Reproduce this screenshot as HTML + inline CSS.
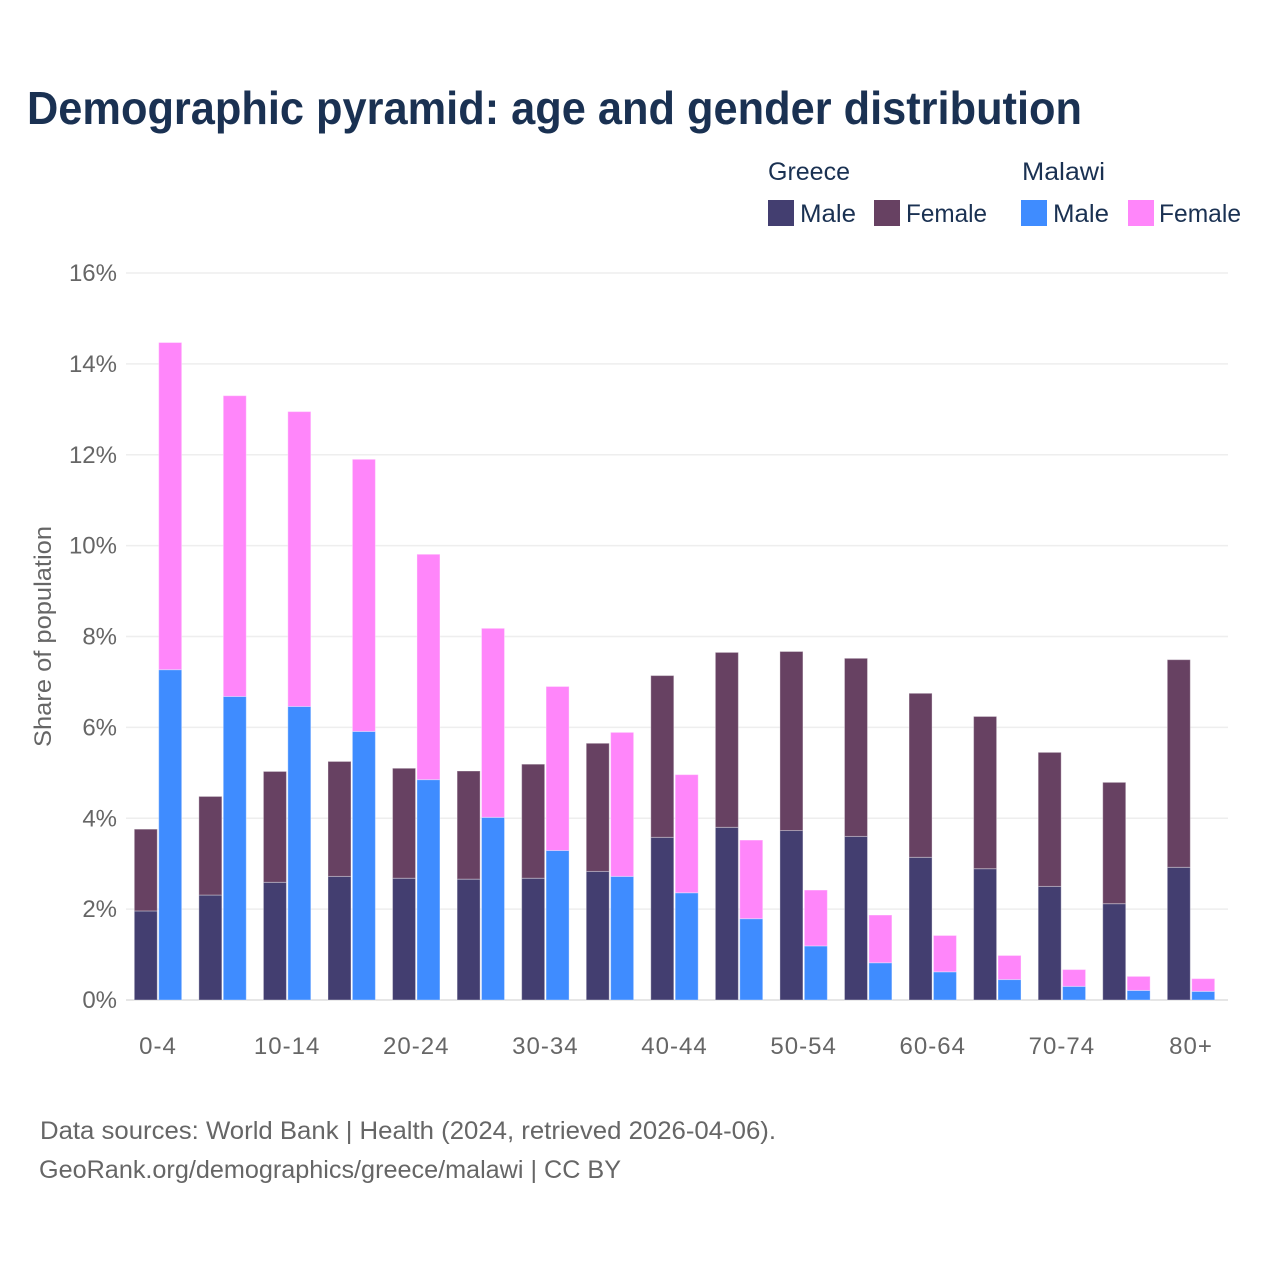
<!DOCTYPE html>
<html lang="en">
<head>
<meta charset="utf-8">
<title>Demographic pyramid</title>
<style>
html,body{margin:0;padding:0;background:#fff;width:1280px;height:1280px;overflow:hidden}
svg{display:block}
text{font-family:"Liberation Sans",sans-serif}
.tick{font-size:24px;fill:#666}
.leg{font-size:25px;fill:#1a3152}
.foot{font-size:25px;fill:#666}
</style>
</head>
<body>
<svg id="chart" width="1280" height="1280" viewBox="0 0 1280 1280" xmlns="http://www.w3.org/2000/svg">
<rect width="1280" height="1280" fill="#fff"/>
<text x="27" y="124" font-size="46" font-weight="700" fill="#1a3152" textLength="1055" lengthAdjust="spacingAndGlyphs">Demographic pyramid: age and gender distribution</text>

<g>
<text class="leg" x="768" y="180" textLength="82" lengthAdjust="spacingAndGlyphs">Greece</text>
<text class="leg" x="1022" y="180" textLength="83" lengthAdjust="spacingAndGlyphs">Malawi</text>
<rect x="768" y="200" width="26" height="26" fill="#433e70"/>
<text class="leg" x="800" y="222" textLength="56" lengthAdjust="spacingAndGlyphs">Male</text>
<rect x="874" y="200" width="26" height="26" fill="#674162"/>
<text class="leg" x="906" y="222" textLength="81" lengthAdjust="spacingAndGlyphs">Female</text>
<rect x="1021" y="200" width="26" height="26" fill="#3f8cff"/>
<text class="leg" x="1053" y="222" textLength="56" lengthAdjust="spacingAndGlyphs">Male</text>
<rect x="1128" y="200" width="26" height="26" fill="#ff86fa"/>
<text class="leg" x="1159" y="222" textLength="82" lengthAdjust="spacingAndGlyphs">Female</text>
</g>

<g id="grid"></g>
<g id="bars"></g>
<g id="yticks"></g>
<g id="xticks"></g>

<text class="tick" transform="translate(51 747) rotate(-90)" x="0" y="0" textLength="221" lengthAdjust="spacingAndGlyphs">Share of population</text>

<text class="foot" x="40" y="1139" textLength="736" lengthAdjust="spacingAndGlyphs">Data sources: World Bank | Health (2024, retrieved 2026-04-06).</text>
<text class="foot" x="39" y="1178" textLength="582" lengthAdjust="spacingAndGlyphs">GeoRank.org/demographics/greece/malawi | CC BY</text>
</svg>

<script>
const categories = ['0-4','5-9','10-14','15-19','20-24','25-29','30-34','35-39','40-44','45-49','50-54','55-59','60-64','65-69','70-74','75-79','80+'];
const greeceMale = [1.96,2.31,2.59,2.72,2.68,2.66,2.68,2.83,3.58,3.80,3.73,3.60,3.14,2.89,2.50,2.12,2.92];
const greeceFemale = [1.80,2.17,2.44,2.53,2.42,2.38,2.51,2.82,3.56,3.85,3.94,3.92,3.61,3.35,2.95,2.67,4.57];
const malawiMale = [7.27,6.68,6.46,5.91,4.85,4.02,3.29,2.72,2.36,1.79,1.19,0.82,0.62,0.45,0.30,0.21,0.19];
const malawiFemale = [7.20,6.62,6.49,5.99,4.96,4.16,3.61,3.17,2.60,1.73,1.23,1.05,0.80,0.53,0.37,0.31,0.28];
const yTickValues = [0,2,4,6,8,10,12,14,16];
const yTickLabels = ['0%','2%','4%','6%','8%','10%','12%','14%','16%'];
const xTickLabels = ['0-4','','10-14','','20-24','','30-34','','40-44','','50-54','','60-64','','70-74','','80+'];

const NS = 'http://www.w3.org/2000/svg';
const plotLeft = 126, plotRight = 1228, plotBottom = 1000, plotTop = 273, yMax = 16;
const firstCenter = 158, lastCenter = 1191;
const barWidth = 23, barOffset = 12.2;

function yScale(v) { return plotBottom - (v / yMax) * (plotBottom - plotTop); }
function xScale(i) { return firstCenter + i * (lastCenter - firstCenter) / (categories.length - 1); }

const gridG = document.getElementById('grid');
const barsG = document.getElementById('bars');
const yG = document.getElementById('yticks');
const xG = document.getElementById('xticks');

yTickValues.forEach(function (v, i) {
  const line = document.createElementNS(NS, 'line');
  
  
  line.setAttribute('x1', plotLeft);
  line.setAttribute('x2', plotRight);
  line.setAttribute('y1', yScale(v));
  line.setAttribute('y2', yScale(v));
  line.setAttribute('stroke', v === 0 ? '#e6e6e6' : '#eeeeee');
  line.setAttribute('stroke-width', v === 0 ? 2 : 1.5);
  gridG.appendChild(line);

  const t = document.createElementNS(NS, 'text');
  
  
  t.setAttribute('class', 'tick');
  t.setAttribute('x', 117);
  t.setAttribute('y', yScale(v) + 8);
  t.setAttribute('text-anchor', 'end');
  t.textContent = yTickLabels[i];
  yG.appendChild(t);
});

function addBar(group, cx, base, value, fill) {
  const r = document.createElementNS(NS, 'rect');
  
  
  r.setAttribute('x', cx - barWidth / 2);
  r.setAttribute('width', barWidth);
  r.setAttribute('y', yScale(base + value));
  r.setAttribute('height', yScale(base) - yScale(base + value));
  r.setAttribute('fill', fill);
  r.setAttribute('stroke', 'rgba(255,255,255,0.35)');
  r.setAttribute('stroke-width', 1);
  group.appendChild(r);
}

categories.forEach(function (c, i) {
  const cx = xScale(i);
  const g = document.createElementNS(NS, 'g');
  
  
  addBar(g, cx - barOffset, 0, greeceMale[i], '#433e70');
  addBar(g, cx - barOffset, greeceMale[i], greeceFemale[i], '#674162');
  addBar(g, cx + barOffset, 0, malawiMale[i], '#3f8cff');
  addBar(g, cx + barOffset, malawiMale[i], malawiFemale[i], '#ff86fa');
  barsG.appendChild(g);

  if (xTickLabels[i]) {
    const t = document.createElementNS(NS, 'text');
    
    
    t.setAttribute('class', 'tick');
    t.setAttribute('x', cx);
    t.setAttribute('y', 1054);
    t.setAttribute('text-anchor', 'middle');
    t.setAttribute('letter-spacing', '1');
    t.textContent = xTickLabels[i];
    xG.appendChild(t);
  }
});
</script>
</body>
</html>
